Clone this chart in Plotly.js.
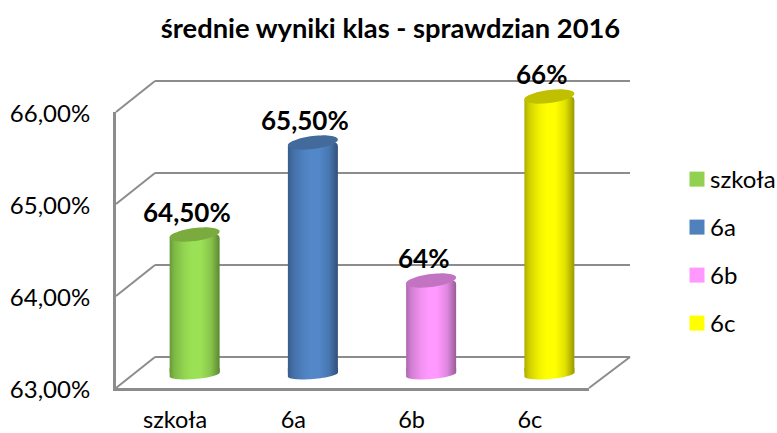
<!DOCTYPE html>
<html><head><meta charset="utf-8">
<script src="https://cdn.plot.ly/plotly-3.0.1.min.js"></script>
<style>html,body{margin:0;padding:0;background:#fff}#c{width:777px;height:433px}</style>
</head><body><div id="c"></div>
<script>
// ---- data ----
const chartTitle = 'średnie wyniki klas - sprawdzian 2016';
const categories = ['szkoła', '6a', '6b', '6c'];
const values = [64.5, 65.5, 64, 66];
const valueLabels = ['64,50%', '65,50%', '64%', '66%'];
const tickValues = [63, 64, 65, 66];
const tickLabels = ['63,00%', '64,00%', '65,00%', '66,00%'];
const bodyColors = ['#9be155', '#5287c9', '#ff99ff', '#ffff00'];
const legendColors = ['#92d050', '#4f81bd', '#ff99ff', '#ffff00'];
const capColors = ['#7bab3f', '#426b9c', '#c273c2', '#c0c000'];

// ---- layout helpers (page pixels -> paper fractions) ----
const W = 777, H = 433;
const px = x => x / W, py = y => 1 - y / H;
const FONT = 'Lato, Carlito, Calibri, sans-serif';
const GRID = '#8c8c8c';
const frontL = 116, frontR = 589, frontBase = 388, unit = 92;
const depthX = 39, depthY = 31;
const backR = 630;
const barW = 50 / ((frontR - frontL) / 4);
const frontY = v => frontBase - (v - 63) * unit;

const shapes = [];
const line = (x0, y0, x1, y1) => shapes.push({type: 'line', xref: 'paper', yref: 'paper', layer: 'below',
  x0: px(x0), y0: py(y0), x1: px(x1), y1: py(y1), line: {color: GRID, width: 2}});
tickValues.forEach(v => {
  const y = frontY(v);
  line(frontL, y, frontL + depthX, y - depthY);
  line(frontL + depthX, y - depthY, backR, y - depthY);
});
line(frontR, frontBase, backR, frontBase - depthY);

// cylinder caps
function ellipse(cx, cy, rx, ry, tilt) {
  let d = '';
  for (let i = 0; i < 60; i++) {
    const t = i / 60 * 2 * Math.PI;
    d += (i ? 'L' : 'M') + (cx + rx * Math.cos(t)).toFixed(4) + ',' +
      (cy + ry * Math.sin(t) + tilt * Math.cos(t)).toFixed(5);
  }
  return d + 'Z';
}
function lowerRim(cx, cy, rx, ry, tilt, topY) {
  let d = 'M' + (cx - rx).toFixed(4) + ',' + topY.toFixed(5) + 'L' + (cx + rx).toFixed(4) + ',' + topY.toFixed(5);
  for (let i = 0; i <= 30; i++) {
    const t = -i / 30 * Math.PI;
    d += 'L' + (cx + rx * Math.cos(t)).toFixed(4) + ',' +
      (cy + ry * Math.sin(t) + tilt * Math.cos(t)).toFixed(5);
  }
  return d + 'Z';
}
const bottomCapIdx = [], topCapIdx = [];
categories.forEach((c, i) => {
  bottomCapIdx.push(shapes.length);
  shapes.push({type: 'path', xref: 'x2', yref: 'paper', layer: 'above', line: {width: 0}, fillcolor: bodyColors[i],
    path: lowerRim(i, py(374.5), barW / 2, 4.5 / H, 2 / H, py(368))});
});
categories.forEach((c, i) => {
  topCapIdx.push(shapes.length);
  shapes.push({type: 'path', xref: 'x2', yref: 'y2', layer: 'above', line: {width: 0}, fillcolor: capColors[i],
    path: ellipse(i, values[i], barW / 2, 6.5 / unit, 3 / unit)});
});

const annotations = categories.map((c, i) => ({
  x: i, y: values[i], xref: 'x2', yref: 'y2', text: valueLabels[i], showarrow: false,
  xshift: -8, yshift: 22.5, font: {family: FONT, size: 26, color: '#000', weight: 700}
}));

const traces = [{
  type: 'scatter', mode: 'markers', x: categories, y: values, xaxis: 'x', yaxis: 'y',
  marker: {opacity: 0}, showlegend: false, hoverinfo: 'skip'
}].concat(categories.map((c, i) => ({
  type: 'bar', name: c, x: [c], y: [values[i]], xaxis: 'x2', yaxis: 'y2', width: barW,
  marker: {color: legendColors[i], cornerradius: 4, line: {width: 0}},
  legendgroup: c, cliponaxis: false, hoverinfo: 'name+y'
})));

const layout = {
  width: W, height: H, margin: {l: 0, r: 0, t: 0, b: 0, autoexpand: false}, autosize: false,
  paper_bgcolor: '#fff', plot_bgcolor: 'rgba(0,0,0,0)', barmode: 'overlay',
  font: {family: FONT, color: '#000'},
  title: {text: chartTitle, x: px(390.5), y: py(28), xref: 'paper', yref: 'paper', xanchor: 'center', yanchor: 'middle',
    font: {family: FONT, size: 27.3, weight: 700, color: '#000'}},
  xaxis: {domain: [px(frontL), px(frontR)], anchor: 'y', type: 'category', categoryorder: 'array', categoryarray: categories,
    range: [-0.5, 3.5], showgrid: false, zeroline: false, showline: true, linecolor: GRID, linewidth: 3, ticks: '',
    ticklabelstandoff: 9, tickfont: {family: FONT, size: 23.5, color: '#000'}, fixedrange: true},
  yaxis: {domain: [py(frontBase), py(frontY(66))], anchor: 'x', range: [63, 66], tickmode: 'array', tickvals: tickValues, ticktext: tickLabels,
    showgrid: false, zeroline: false, showline: true, linecolor: GRID, linewidth: 3, ticks: '',
    ticklabelstandoff: 18, tickfont: {family: FONT, size: 24, color: '#000'}, fixedrange: true},
  xaxis2: {domain: [px(frontL + depthX / 2), px(frontR + depthX / 2)], anchor: 'y2', type: 'category', categoryorder: 'array', categoryarray: categories,
    range: [-0.5, 3.5], visible: false, fixedrange: true},
  yaxis2: {domain: [py(frontBase - depthY / 2), py(frontY(66) - depthY / 2 - 30)], anchor: 'x2',
    range: [63, 66 + 30 / unit], visible: false, fixedrange: true},
  shapes, annotations,
  showlegend: true,
  legend: {x: px(670), y: py(157), xanchor: 'left', yanchor: 'top', traceorder: 'grouped', tracegroupgap: 16,
    font: {family: FONT, size: 24, color: '#000'}, bgcolor: 'rgba(0,0,0,0)', itemclick: false, itemdoubleclick: false}
};

function mix(hex, f) {
  const n = parseInt(hex.slice(1), 16);
  return 'rgb(' + [n >> 16, (n >> 8) & 255, n & 255].map(c => Math.round(c * f)).join(',') + ')';
}
const shadeStops = [[0, .68], [.1, .82], [.3, .95], [.45, 1], [.62, 1], [.82, .88], [1, .6]];
const translateY = el => {
  const m = /translate\(([^,]+),\s*([^)]+)\)/.exec(el.getAttribute('transform') || '');
  return m ? parseFloat(m[2]) : 0;
};

Plotly.newPlot('c', traces, layout, {displayModeBar: false, responsive: false}).then(gd => {
  const svg = gd.querySelector('svg.main-svg');
  const NS = 'http://www.w3.org/2000/svg';
  const defs = svg.querySelector('defs');
  bodyColors.forEach((col, i) => {
    const g = document.createElementNS(NS, 'linearGradient');
    g.setAttribute('id', 'cyl' + i);
    g.setAttribute('x1', '0'); g.setAttribute('x2', '1'); g.setAttribute('y1', '0'); g.setAttribute('y2', '0');
    shadeStops.forEach(([o, f]) => {
      const s = document.createElementNS(NS, 'stop');
      s.setAttribute('offset', o); s.setAttribute('stop-color', mix(col, f));
      g.appendChild(s);
    });
    defs.appendChild(g);
  });
  gd.querySelectorAll('.barlayer .trace').forEach((t, i) => {
    const p = t.querySelector('.point path');
    if (p) p.style.fill = 'url(#cyl' + i + ')';
  });
  bottomCapIdx.forEach((idx, i) => {
    const p = gd.querySelector('.layer-above .shapelayer path[data-index="' + idx + '"]');
    if (p) p.style.fill = 'url(#cyl' + i + ')';
  });
  gd.querySelectorAll('.legend .legendpoints').forEach(g => {
    g.setAttribute('transform', 'translate(2,0) scale(1.25)');
    g.querySelectorAll('path').forEach(p => p.setAttribute('d', 'M6,6H-6V-6H6Z'));
  });
  // even 48px legend rows, as in the reference
  const rows = [...gd.querySelectorAll('.legend .traces')];
  const base = rows.length ? translateY(rows[0]) + translateY(rows[0].parentNode) : 0;
  rows.forEach((r, i) => {
    r.parentNode.setAttribute('transform', 'translate(0,0)');
    r.setAttribute('transform', 'translate(0,' + (base + i * 48) + ')');
  });
  gd.querySelectorAll('.ytick text').forEach(t => {
    t.setAttribute('dy', '2');
  });
});
</script></body></html>
